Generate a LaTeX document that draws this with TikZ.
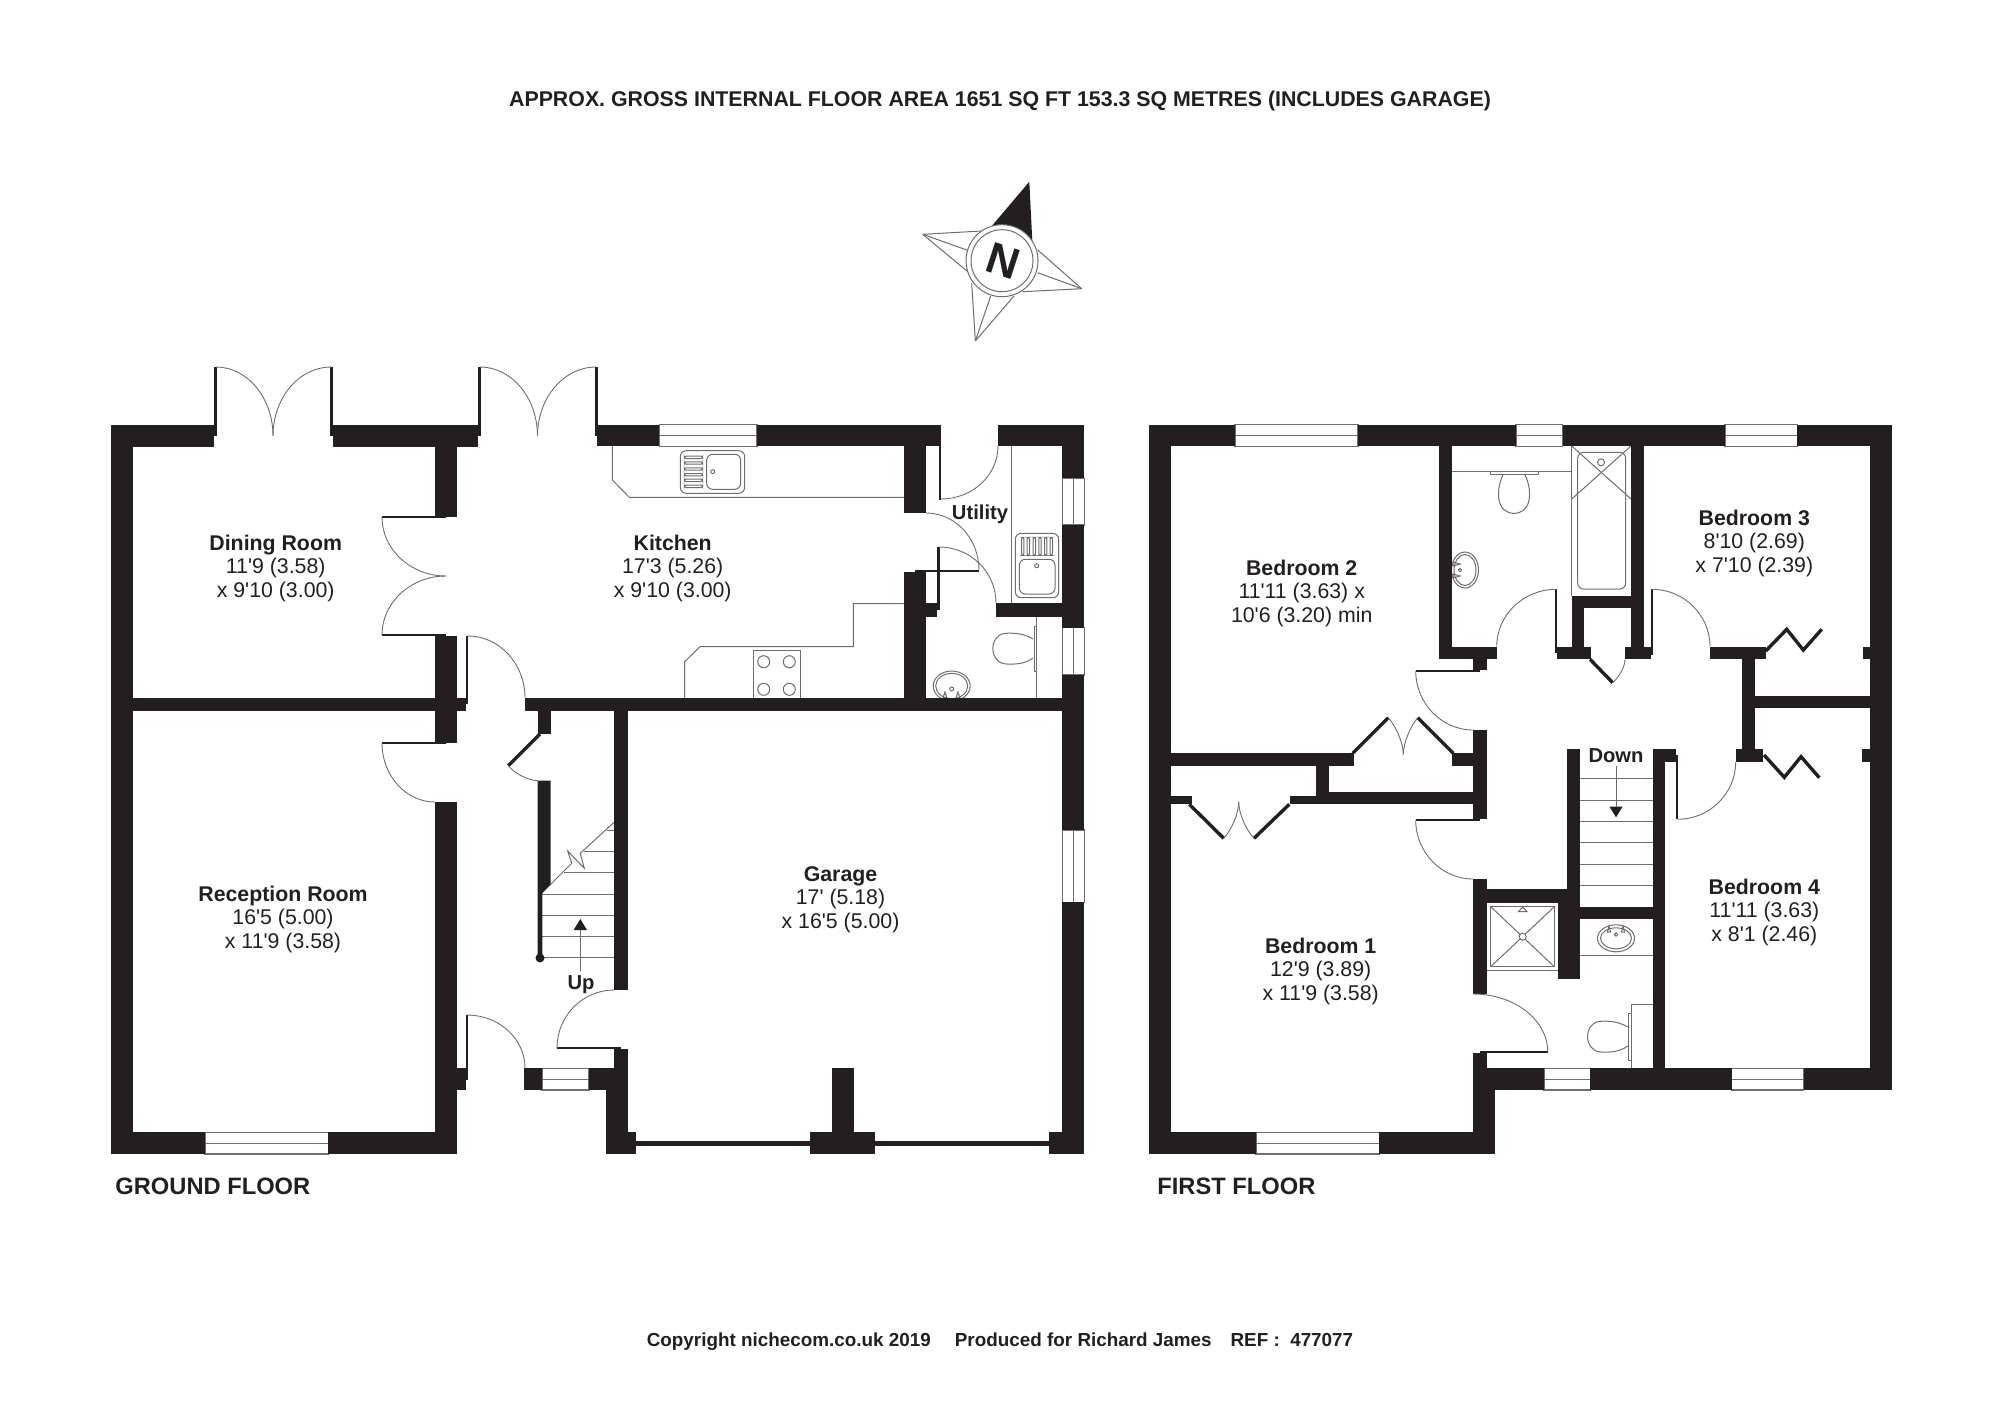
\documentclass[tikz,border=0pt]{standalone}
\usepackage{fontspec}
\setmainfont{Liberation Sans}[Ligatures=TeXOff]
\usetikzlibrary{%
  calc,
  positioning
}
\definecolor{walldark}{HTML}{231F20}
\definecolor{fixgrey}{HTML}{6E6C6D}
\tikzset{
  wall/.style={fill=walldark, draw=none},
  fixture/.style={draw=fixgrey, line width=0.5pt},
  doorline/.style={draw=fixgrey, line width=0.45pt},
  leaf/.style={draw=walldark, line width=1.7pt},
  glass/.style={draw=fixgrey, fill=white, line width=0.6pt},
  room/.style={
    align=center, inner sep=0pt, text=walldark, yshift=-1.2pt,
    font=\fontsize{10.65}{11.8}\selectfont,
  },
  sign/.style={inner sep=0pt, text=walldark, yshift=-1pt,
    font=\fontsize{10.1}{12}\bfseries\selectfont},
  floorname/.style={inner sep=0pt, anchor=west, text=walldark, yshift=-0.5pt,
    font=\fontsize{11.85}{14}\bfseries\selectfont},
}
% quarter swing: start, corner of the tangents, end
\newcommand{\swing}[3]{%
  \draw [doorline] (#1) .. controls ($(#1)!0.552!(#2)$) and ($(#3)!0.552!(#2)$) .. (#3) ;
}
% window in a horizontal wall
\newcommand{\hwindow}[3]{%
  \draw [glass] (#1,#3) rectangle (#2,#3+21.7) ;
  \draw [fixture] (#1,#3+11) -- (#2,#3+11) ;
}
% window in a vertical wall
\newcommand{\vwindow}[3]{%
  \draw [glass] (#3,#1) rectangle (#3+22,#2) ;
  \draw [fixture] (#3+11,#1) -- (#3+11,#2) ;
}
\begin{document}
\begin{tikzpicture}[x=0.5pt, y=-0.5pt]
  \useasboundingbox (0,0) rectangle (2000,1414);

  \node (title) at (1000,99) [sign, font=\fontsize{10.67}{13}\bfseries\selectfont]
        {APPROX. GROSS INTERNAL FLOOR AREA 1651 SQ FT 153.3 SQ METRES (INCLUDES GARAGE)} ;
  \node (copyright) at (1000,1340) [sign, font=\fontsize{9.43}{12}\bfseries\selectfont]
        {Copyright nichecom.co.uk 2019\quad\ Produced for Richard James\quad REF :\ \ 477077} ;
  \node (groundname) at (115,1185) [floorname] {GROUND FLOOR} ;
  \node (firstname) at (1157,1185) [floorname] {FIRST FLOOR} ;

  % compass
  \begin{scope}[fixture]
    \draw (922.7,234.3) -- (981.7,231) ;
    \draw (922.7,234.3) -- (966.7,250) ;
    \draw (922.7,234.3) -- (969,272.7) ;
    \draw (975.3,341) -- (971.7,283.3) ;
    \draw (975.3,341) -- (990.7,296) ;
    \draw (975.3,341) -- (1014,296) ;
    \draw (1081.7,288.7) -- (1037.7,250) ;
    \draw (1081.7,288.7) -- (1037.7,272.7) ;
    \draw (1081.7,288.7) -- (1022.7,291.7) ;
  \end{scope}
  \fill [walldark] (1029.3,181.7) -- (990.7,227.3) -- (1002,250) -- (1032.3,241) -- cycle ;
  \draw [fixture, fill=white] (1002,260.7) circle [radius=36] ;
  \draw [fixture] (1002,260.7) circle [radius=31] ;
  \node (north) at (1003,260.7) [rotate=-18, inner sep=0pt, text=walldark,
        font=\fontsize{22}{24}\bfseries\selectfont] {N} ;

  % ground floor fittings
  \begin{scope}[fixture]
    \draw (612.3,446) -- (612.3,480) -- (629.3,497.3) -- (905,497.3) ;
    \draw [rounded corners=3pt] (680.3,450.7) rectangle (744.7,493.3) ;
    \draw [rounded corners=3pt] (706.7,454.3) rectangle (740.7,489.3) ;
    \draw (712.7,471.7) circle [radius=2] ;
    \foreach \slat in {457.3,463,469,474.7,480.3,486.3}
      \draw [rounded corners=1pt] (684.3,\slat-1.2) rectangle (702.7,\slat+1.2) ;
    \draw (905,603.7) -- (853.3,603.7) -- (853.3,646.7) -- (700,646.7)
          -- (684.7,661.7) -- (684.7,698) ;
    \draw (753,698) -- (753,650.3) -- (800,650.3) -- (800,698) ;
    \foreach \ringx in {763.7,789.3}
      \foreach \ringy in {661.7,689.3}
        \draw (\ringx,\ringy) circle [radius=6] ;
    \draw (1011,446) -- (1011,603.3) ;
    \draw [rounded corners=3pt] (1015.3,533.3) rectangle (1058.7,597.7) ;
    \draw [rounded corners=3pt] (1019.3,559.3) rectangle (1055,594) ;
    \draw (1036.7,565.7) circle [radius=2] ;
    \foreach \slat in {1022.7,1028.3,1034.3,1040,1045.7,1051.3}
      \draw [rounded corners=1pt] (\slat-1.2,537.3) rectangle (\slat+1.2,555.3) ;
    \draw (1036.7,617) -- (1036.7,698) ;
    \draw (1034.3,626) rectangle (1036.7,671.7) ;
    \draw (1033,639) .. controls (1022,632) and (1008,633) .. (1004,633.5)
          .. controls (989,636) and (989,661) .. (1004,663.7)
          .. controls (1010,664.5) and (1024,665) .. (1033,658) ;
    \draw (951.7,686) ellipse [x radius=18.5, y radius=15] ;
    \draw (951.7,686) ellipse [x radius=16, y radius=12.7] ;
    \draw (951.7,689) circle [radius=2] ;
    \draw (945,692) -- (943,698) -- (947,698) -- cycle ;
    \draw (958,692) -- (956,698) -- (960,698) -- cycle ;
    % stairs up
    \foreach \tread in {957.7,936.7,915.3,894}
      \draw (542,\tread) -- (614,\tread) ;
    \draw (564.3,872.3) -- (614,872.3) ;
    \draw (584.3,851) -- (614,851) ;
    \draw (606.7,830) -- (614,830) ;
    \draw (542,893) -- (571.7,863.3) -- (567.7,851) -- (584.3,868.3)
          -- (580.3,853.3) -- (614,822.3) ;
    \draw (580.3,970.7) -- (580.3,925) ;
  \end{scope}
  \fill [walldark] (580.3,919) -- (587,930) -- (573.6,930) -- cycle ;

  % first floor fittings
  \begin{scope}[fixture]
    \draw (1452,471.7) -- (1571.7,471.7) ;
    \draw (1490,471.7) rectangle (1538,474.5) ;
    \draw (1503,475) .. controls (1498,485) and (1498,495) .. (1499,500)
          .. controls (1502,518) and (1526,518) .. (1529,500)
          .. controls (1530,495) and (1530,485) .. (1525,475) ;
    \draw (1465,570) ellipse [x radius=13.5, y radius=18] ;
    \draw (1465,570) ellipse [x radius=11, y radius=15.5] ;
    \draw (1460,570) circle [radius=1.7] ;
    \draw (1453,562) -- (1460,564) -- (1453,566) -- cycle ;
    \draw (1453,574) -- (1460,576) -- (1453,578) -- cycle ;
    \draw (1571.7,446) -- (1571.7,596) ;
    \draw [rounded corners=3pt] (1577.7,452.3) rectangle (1625.7,589) ;
    \draw (1571.7,446) -- (1631,499) ;
    \draw (1631,446) -- (1571.7,499) ;
    \draw [fill=white] (1601,462.3) circle [radius=3.5] ;
    % shower
    \draw (1486.7,970.7) -- (1558.3,970.7) ;
    \draw (1490.7,906.7) rectangle (1554.3,966.7) ;
    \draw (1490.7,906.7) -- (1554.3,966.7) ;
    \draw (1554.3,906.7) -- (1490.7,966.7) ;
    \draw [fill=white] (1522.7,936.7) circle [radius=3.5] ;
    \draw (1522.7,907) -- (1527,911.7) -- (1518.4,911.7) -- cycle ;
    \draw (1580,955.7) -- (1652.7,955.7) ;
    \draw (1616,938.3) ellipse [x radius=18.5, y radius=13.5] ;
    \draw (1616,938.3) ellipse [x radius=15.5, y radius=10.5] ;
    \draw (1616,934.5) circle [radius=1.7] ;
    \draw (1609,926) -- (1607.5,932) -- (1610.5,932) -- cycle ;
    \draw (1623,926) -- (1621.5,932) -- (1624.5,932) -- cycle ;
    \draw (1652.7,1004.3) -- (1631.3,1004.3) -- (1631.3,1068.3) ;
    \draw (1628.7,1013.3) rectangle (1631.3,1060) ;
    \begin{scope}[shift={(594.7,388)}]
      \draw (1033,639) .. controls (1022,632) and (1008,633) .. (1004,633.5)
            .. controls (989,636) and (989,661) .. (1004,663.7)
            .. controls (1010,664.5) and (1024,665) .. (1033,658) ;
    \end{scope}
    % stairs down
    \foreach \tread in {778.7,800,821.3,842.7,864,885.3}
      \draw (1580,\tread) -- (1652.7,\tread) ;
    \draw (1616,766) -- (1616,810) ;
  \end{scope}
  \fill [walldark] (1616,817.3) -- (1622.5,806.7) -- (1609.5,806.7) -- cycle ;

  % windows
  \hwindow{659.3}{757}{424.5}
  \hwindow{205}{328.3}{1132.3}
  \hwindow{542}{589}{1068.3}
  \hwindow{1235}{1358}{424.5}
  \hwindow{1516}{1562.7}{424.5}
  \hwindow{1725}{1797.3}{424.5}
  \hwindow{1256}{1379.3}{1132.3}
  \hwindow{1544}{1590.3}{1068.3}
  \hwindow{1731.7}{1803.7}{1068.3}
  \vwindow{478.3}{525}{1062.3}
  \vwindow{627.7}{675}{1062.3}
  \vwindow{830}{902.3}{1062.3}

  % ground floor walls
  \foreach \xa/\ya/\xb/\yb in {
      111/424.5/132.5/1154, 132/424.5/213.5/447, 333/424.5/478/447, 597/424.5/659.3/446,
      757/424.5/941/436, 757/436/939/446, 904.3/446/926/512.7, 998/424.5/1084.3/446,
      1062.3/446/1084.3/478.3, 1062.3/525/1084.3/627.7, 1062.3/675/1084.3/830,
      1062.3/902.3/1084.3/1154, 904.3/571.7/926/710.5, 926/603.3/937/617.3,
      996/603.3/1062.3/617.3, 525/697.7/1062.3/710.5, 132/697.7/465.7/710.5,
      435/447/457/517, 435/635.5/457/742.7, 435/802/457/1154, 132/1132.3/205/1154,
      328.3/1132.3/457/1154, 457/1068.3/465.7/1090, 524.3/1068.3/542/1090,
      589/1068.3/627.7/1090, 614/1049/627.7/1090, 605.7/1090/627.7/1154,
      627.7/1132.3/636.3/1154, 614/710.5/627.7/990, 636/1140.7/811/1145.7,
      875/1140.7/1050/1145.7, 831.7/1068.3/853.7/1154, 810.3/1132.3/875/1154,
      1049.3/1132.3/1062.3/1154, 537.7/710.5/550.7/734,
      213.5/367/216.5/436, 330/367/333/436, 478/367/480.5/436, 595/367/597.5/436,
      939/436/941/499.5, 465.7/636/468/704, 465.7/1015/468/1080, 937/546.7/939.5/610,
      915/570/979/572, 382/516/446/518, 382/634.3/446/636.3, 382/742/446/744,
      556.7/1047.3/620.7/1049.3}
    \fill [wall] (\xa,\ya) rectangle (\xb,\yb) ;
  \fill [wall] (537.7,780.7) -- (550.7,780.7) -- (550.7,884) -- (542.3,893)
        -- (542.3,958) -- (537.7,958) -- cycle ;
  \fill [wall] (540,958) circle [radius=4.5] ;
  \draw [leaf] (540,734) -- (508.3,765.7) ;

  % first floor walls
  \foreach \xa/\ya/\xb/\yb in {
      1149/424.5/1170.7/1154, 1170/424.5/1235/446, 1358/424.5/1516/446, 1562.7/424.5/1725/446,
      1797.3/424.5/1891.7/446, 1870/446/1891.7/1090, 1149/1132.3/1256/1154,
      1379.3/1132.3/1495/1154, 1473.3/1053.3/1486.7/1090, 1473.3/1068.3/1544/1090,
      1473.3/1090/1495/1154, 1590.3/1068.3/1731.7/1090, 1803.7/1068.3/1891.7/1090,
      1439.3/446/1452.3/659.3, 1439.3/646.7/1496.7/659.3, 1473.3/659.3/1486.7/670,
      1473.3/730/1486.7/819.3, 1473.3/879/1486.7/994, 1170.7/753.3/1354/766,
      1452.3/753.3/1473.3/766, 1315.7/766/1328.7/791.7, 1315.7/791.7/1473.3/804.3,
      1290/796/1315.7/804.3, 1170.7/796/1192.3/804.3, 1486.7/889.3/1566.7/902.7,
      1566.7/749/1580/979.3, 1558.3/902.7/1566.7/979.3, 1580/906.7/1652.7/919.3,
      1652.7/749/1665.3/1068.3, 1665.3/749/1676/762.3, 1735.7/749/1763.3/762.3,
      1742.3/659.3/1755/749, 1755/695.7/1870/708.3, 1710/646.7/1765.7/659.3,
      1863.3/646.7/1870/659.3, 1861.7/749/1870/762, 1556.7/646.7/1591/659.3,
      1571.7/595.7/1584.3/646.7, 1584.3/595.7/1631/608.3, 1625/646.7/1651/659.3,
      1631/446/1644/646.7,
      1676/755/1678/819.3, 1555/589.3/1557/653, 1650.7/589.3/1652.8/655,
      1415.7/670/1480/672, 1415.7/819.3/1480/821.3, 1480/1050.7/1547.7/1052.7}
    \fill [wall] (\xa,\ya) rectangle (\xb,\yb) ;
  \draw [leaf] (1590,659.3) -- (1612.7,682.7) ;
  \draw [leaf] (1189.3,804.3) -- (1223.7,838.3) ;
  \draw [leaf] (1289.3,804.3) -- (1254,838.3) ;
  \draw [leaf] (1352.7,753.3) -- (1388.3,717.7) ;
  \draw [leaf] (1453.3,753.3) -- (1417.7,717.7) ;
  \draw [leaf] (1765.7,651) -- (1786.7,629.3) -- (1803.3,650) -- (1821.7,629.3) ;
  \draw [leaf] (1764,755) -- (1784.3,777.3) -- (1801,756.7) -- (1819.3,777.7) ;

  % door swings
  \swing{216,367}{273,367}{273,436}
  \swing{331,367}{273,367}{273,436}
  \swing{480,367}{537.5,367}{537.5,436}
  \swing{596,367}{537.5,367}{537.5,436}
  \swing{382,517}{382,576}{446,576}
  \swing{382,635}{382,576}{446,576}
  \swing{468,636}{525,636}{525,698}
  \swing{382,743}{382,802}{435,802}
  \swing{508.3,765.7}{520,780}{538,780.7}
  \swing{467,1015}{525,1015}{525,1068}
  \swing{614,990}{557,990}{557,1048}
  \swing{941,499}{998,499}{998,446}
  \swing{926,513}{979,513}{979,570}
  \swing{939,547}{996,547}{996,603}
  \swing{1415.7,670.7}{1415.7,730}{1473.3,730}
  \swing{1415.7,820}{1415.7,879}{1473.3,879}
  \swing{1473.3,994}{1547.7,994}{1547.7,1051.7}
  \swing{1556,589.3}{1496.7,589.3}{1496.7,646.7}
  \swing{1652,589.3}{1710,589.3}{1710,646.7}
  \swing{1677.5,819.3}{1735.7,819.3}{1735.7,761.7}
  \swing{1612.7,682.7}{1625,672}{1625,659.3}
  \swing{1223.7,838.3}{1238.7,822}{1238.7,801.7}
  \swing{1254,838.3}{1238.7,822}{1238.7,801.7}
  \swing{1388.3,717.7}{1403.3,735}{1403.3,754.3}
  \swing{1417.7,717.7}{1403.3,735}{1403.3,754.3}

  % room labels
  \node (dining) at (275.7,566) [room] {\textbf{Dining Room}\\11'9 (3.58)\\x 9'10 (3.00)} ;
  \node (kitchen) at (672.7,566) [room] {\textbf{Kitchen}\\17'3 (5.26)\\x 9'10 (3.00)} ;
  \node (utility) at (980,512) [sign] {Utility} ;
  \node (reception) at (283,917) [room] {\textbf{Reception Room}\\16'5 (5.00)\\x 11'9 (3.58)} ;
  \node (garage) at (840.5,897) [room] {\textbf{Garage}\\17' (5.18)\\x 16'5 (5.00)} ;
  \node (up) at (581,983) [sign] {Up} ;
  \node (bedtwo) at (1301.7,591) [room] {\textbf{Bedroom 2}\\11'11 (3.63) x\\10'6 (3.20) min} ;
  \node (bedthree) at (1754.3,540.7) [room] {\textbf{Bedroom 3}\\8'10 (2.69)\\x 7'10 (2.39)} ;
  \node (bedfour) at (1764.3,910) [room] {\textbf{Bedroom 4}\\11'11 (3.63)\\x 8'1 (2.46)} ;
  \node (bedone) at (1320.7,969) [room] {\textbf{Bedroom 1}\\12'9 (3.89)\\x 11'9 (3.58)} ;
  \node (down) at (1616,754) [sign] {Down} ;
\end{tikzpicture}
\end{document}
